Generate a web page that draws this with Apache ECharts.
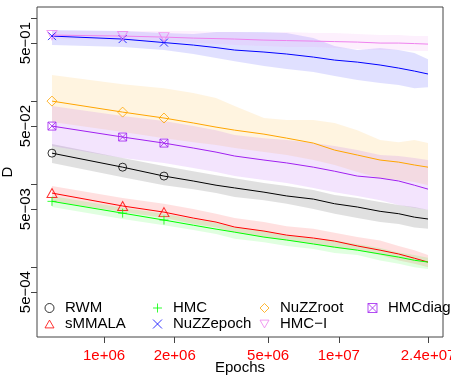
<!DOCTYPE html>
<html>
<head>
<meta charset="utf-8">
<script src="https://cdn.jsdelivr.net/npm/echarts@6/dist/echarts.min.js"></script>
<style>
  html, body { margin: 0; padding: 0; background: #fff; }
  #main { width: 451px; height: 375px; }
</style>
</head>
<body>
<div id="main"></div>
<script>
var epochs = [6e5, 1.2e6, 1.8e6, 2.4e6, 3e6, 3.6e6, 4.8e6, 6e6, 7.8e6, 9.6e6, 1.2e7, 1.5e7, 1.8e7, 2.1e7, 2.4e7];

// axis ticks and labels
var xTicks = [1e6, 2e6, 5e6, 1e7, 2.4e7];
var xTickLabels = ['1e+06', '2e+06', '5e+06', '1e+07', '2.4e+07'];
var yTicks = [1, 0.5, 0.1, 0.05, 0.01, 0.005, 0.001, 0.0005];
var yLabelVals = [0.5, 0.05, 0.005, 0.0005];
var yLabels = ['5e\u221201', '5e\u221202', '5e\u221203', '5e\u221204'];

// D per method: mean line, lower and upper band
var rwmMean = [0.0236, 0.0160, 0.0125, 0.0109, 0.0097, 0.0090, 0.0080, 0.0072, 0.0066, 0.0058, 0.0053, 0.0047, 0.0044, 0.0040, 0.0038];
var rwmLo   = [0.0180, 0.0121, 0.0097, 0.0087, 0.0078, 0.0070, 0.0064, 0.0058, 0.0050, 0.0044, 0.0039, 0.0035, 0.0033, 0.0030, 0.0029];
var rwmHi   = [0.0304, 0.0206, 0.0165, 0.0143, 0.0128, 0.0118, 0.0103, 0.0095, 0.0085, 0.0074, 0.0068, 0.0061, 0.0056, 0.0053, 0.0049];

var smmalaMean = [0.0078, 0.00545, 0.0046, 0.0039, 0.00349, 0.00304, 0.00272, 0.00243, 0.00224, 0.00206, 0.00180, 0.00160, 0.00144, 0.00128, 0.00115];
var smmalaLo   = [0.0062, 0.0046, 0.0039, 0.0033, 0.0030, 0.0026, 0.0023, 0.0021, 0.0019, 0.0017, 0.0016, 0.0014, 0.0012, 0.0011, 0.0010];
var smmalaHi   = [0.0095, 0.0068, 0.0058, 0.0050, 0.0044, 0.0039, 0.0035, 0.0031, 0.0029, 0.0026, 0.0023, 0.0021, 0.0018, 0.0016, 0.0014];

var hmcMean = [0.0062, 0.00447, 0.00369, 0.00320, 0.00287, 0.00264, 0.00230, 0.00212, 0.00190, 0.00174, 0.00160, 0.00144, 0.00132, 0.00121, 0.00115];
var hmcLo   = [0.0053, 0.0038, 0.0032, 0.0028, 0.0025, 0.0022, 0.0020, 0.0018, 0.00165, 0.00148, 0.0014, 0.0012, 0.0011, 0.0010, 0.00095];
var hmcHi   = [0.0072, 0.0052, 0.0044, 0.0038, 0.0034, 0.0030, 0.0027, 0.0024, 0.0022, 0.0021, 0.0019, 0.0017, 0.0015, 0.0014, 0.0013];

var epochMean = [0.607, 0.559, 0.507, 0.473, 0.441, 0.412, 0.390, 0.369, 0.339, 0.312, 0.295, 0.272, 0.250, 0.230, 0.212];
var epochLo   = [0.473, 0.447, 0.412, 0.369, 0.330, 0.303, 0.264, 0.243, 0.224, 0.200, 0.179, 0.165, 0.156, 0.143, 0.147];
var epochHi   = [0.717, 0.697, 0.660, 0.642, 0.678, 0.678, 0.678, 0.660, 0.574, 0.460, 0.412, 0.435, 0.412, 0.379, 0.320];

var rootMean = [0.100, 0.0737, 0.0625, 0.0545, 0.0486, 0.0447, 0.0400, 0.0358, 0.0312, 0.0257, 0.0224, 0.0195, 0.0184, 0.0170, 0.0160];
var rootLo   = [0.0559, 0.0424, 0.0358, 0.0320, 0.0295, 0.0272, 0.0243, 0.0224, 0.0195, 0.0170, 0.0140, 0.0118, 0.0112, 0.0106, 0.0097];
var rootHi   = [0.206, 0.160, 0.143, 0.125, 0.109, 0.087, 0.0625, 0.059, 0.059, 0.0545, 0.0447, 0.0339, 0.0320, 0.0339, 0.0312];

var hmciMean = [0.624, 0.607, 0.590, 0.574, 0.566, 0.559, 0.543, 0.536, 0.528, 0.521, 0.514, 0.500, 0.500, 0.493, 0.486];
var hmciLo   = [0.559, 0.543, 0.528, 0.500, 0.486, 0.473, 0.460, 0.447, 0.447, 0.435, 0.424, 0.412, 0.412, 0.400, 0.400];
var hmciHi   = [0.697, 0.697, 0.697, 0.697, 0.678, 0.678, 0.660, 0.678, 0.660, 0.660, 0.642, 0.624, 0.624, 0.607, 0.607];

var diagMean = [0.050, 0.0369, 0.0312, 0.0272, 0.0243, 0.0218, 0.0195, 0.0180, 0.0160, 0.0143, 0.0125, 0.0118, 0.0109, 0.0097, 0.0087];
var diagLo   = [0.0287, 0.0206, 0.0180, 0.0156, 0.0140, 0.0125, 0.0112, 0.0103, 0.0090, 0.0080, 0.0072, 0.0064, 0.0056, 0.0052, 0.0049];
var diagHi   = [0.087, 0.066, 0.0575, 0.050, 0.0447, 0.0390, 0.0358, 0.0339, 0.0312, 0.0287, 0.0257, 0.0224, 0.0218, 0.0206, 0.0195];

var methods = [
  { name: 'RWM', color: '#000000', band: 'rgba(0,0,0,0.12)', mean: rwmMean, lo: rwmLo, hi: rwmHi,
    symbol: 'circle', size: 8 },
  { name: 'sMMALA', color: '#FF0000', band: 'rgba(255,0,0,0.12)', mean: smmalaMean, lo: smmalaLo, hi: smmalaHi,
    symbol: 'path://M5,0L10,8.66L0,8.66Z', size: [10, 9] },
  { name: 'HMC', color: '#00FF00', band: 'rgba(0,255,0,0.12)', mean: hmcMean, lo: hmcLo, hi: hmcHi,
    symbol: 'path://M5,0L5,10M0,5L10,5', size: 9 },
  { name: 'NuZZepoch', color: '#0000FF', band: 'rgba(0,0,255,0.12)', mean: epochMean, lo: epochLo, hi: epochHi,
    symbol: 'path://M0,0L10,10M10,0L0,10', size: 8 },
  { name: 'NuZZroot', color: '#FFA500', band: 'rgba(255,165,0,0.12)', mean: rootMean, lo: rootLo, hi: rootHi,
    symbol: 'diamond', size: 10 },
  { name: 'HMC\u2212I', color: '#EE82EE', band: 'rgba(238,130,238,0.12)', mean: hmciMean, lo: hmciLo, hi: hmciHi,
    symbol: 'path://M0,0L10,0L5,8.66Z', size: [10, 9] },
  { name: 'HMCdiag', color: '#A020F0', band: 'rgba(160,32,240,0.12)', mean: diagMean, lo: diagLo, hi: diagHi,
    symbol: 'path://M0,0L10,0L10,10L0,10ZM0,0L10,10M10,0L0,10', size: 8 }
];

// legend laid out in columns like the R legend
var legendCols = [['RWM', 'sMMALA'], ['HMC', 'NuZZepoch'], ['NuZZroot', 'HMC\u2212I'], ['HMCdiag']];
var legendX = [44.5, 152.5, 259.5, 367.5];

var lg = Math.log10;
var font = 'Liberation Sans, Arial, Helvetica, sans-serif';

function labelFor(v, vals, labels) {
  for (var i = 0; i < vals.length; i++) {
    if (Math.abs(lg(vals[i]) - v) < 1e-6) return labels[i];
  }
  return '';
}

// shaded band between lo and hi, drawn as one polygon
function bandSeries(m) {
  return {
    type: 'custom',
    silent: true,
    z: 1,
    data: epochs.map(function (x, i) { return [lg(x), lg(m.lo[i]), lg(m.hi[i])]; }),
    encode: { x: 0, y: [1, 2] },
    renderItem: function (params, api) {
      if (params.dataIndex !== 0) return null;
      var top = [], bot = [];
      for (var i = 0; i < epochs.length; i++) {
        top.push(api.coord([lg(epochs[i]), lg(m.hi[i])]));
        bot.unshift(api.coord([lg(epochs[i]), lg(m.lo[i])]));
      }
      return { type: 'polygon', shape: { points: top.concat(bot) }, style: { fill: m.band } };
    }
  };
}

var series = [];
methods.forEach(function (m) { series.push(bandSeries(m)); });
methods.forEach(function (m) {
  series.push({
    name: m.name + ' line',
    type: 'line',
    z: 2,
    silent: true,
    symbol: 'none',
    lineStyle: { color: m.color, width: 1 },
    data: epochs.map(function (x, i) { return [lg(x), lg(m.mean[i])]; })
  });
});
// markers only on the first three points
methods.forEach(function (m) {
  series.push({
    name: m.name,
    type: 'scatter',
    z: 3,
    silent: true,
    symbol: m.symbol,
    symbolSize: m.size,
    itemStyle: { color: 'rgba(0,0,0,0)', borderColor: m.color, borderWidth: 1 },
    data: epochs.slice(0, 3).map(function (x, i) { return [lg(x), lg(m.mean[i])]; })
  });
});

var methodOf = {};
methods.forEach(function (m) { methodOf[m.name] = m; });

var chart = echarts.init(document.getElementById('main'));
chart.setOption({
  animation: false,
  textStyle: { fontFamily: font },
  grid: { left: 37, right: 8, top: 7, bottom: 38, show: true, borderColor: '#444', borderWidth: 1,
          backgroundColor: 'rgba(0,0,0,0)', containLabel: false, outerBoundsMode: 'none' },
  legend: legendCols.map(function (names, c) {
    return {
      orient: 'vertical',
      left: legendX[c],
      top: 300,
      padding: 0,
      itemGap: 0,
      itemWidth: 9,
      itemHeight: 9,
      selectedMode: false,
      textStyle: { fontFamily: font, fontSize: 15, color: '#000', lineHeight: 16, padding: [0, 0, 0, 6] },
      data: names.map(function (n) {
        var m = methodOf[n];
        return { name: n, icon: m.symbol,
                 itemStyle: { color: 'rgba(0,0,0,0)', borderColor: m.color, borderWidth: 1 } };
      })
    };
  }),
  xAxis: {
    type: 'value',
    min: lg(5.18e5),
    max: lg(2.78e7),
    name: 'Epochs',
    nameLocation: 'middle',
    nameGap: 23,
    nameMoveOverlap: false,
    nameTextStyle: { fontFamily: font, fontSize: 15, color: '#000' },
    axisLine: { show: false, onZero: false },
    splitLine: { show: false },
    axisTick: { show: true, length: 6, lineStyle: { color: '#444' }, customValues: xTicks.map(lg) },
    axisLabel: {
      customValues: xTicks.map(lg),
      margin: 11,
      fontFamily: font,
      fontSize: 15,
      color: '#FF0000',
      formatter: function (v) { return labelFor(v, xTicks, xTickLabels); }
    }
  },
  yAxis: {
    type: 'value',
    min: lg(1.44e-4),
    max: lg(1.36),
    name: 'D',
    nameLocation: 'middle',
    nameGap: 22,
    nameMoveOverlap: false,
    nameTextStyle: { fontFamily: font, fontSize: 15, color: '#000' },
    axisLine: { show: false, onZero: false },
    splitLine: { show: false },
    axisTick: { show: true, length: 6, lineStyle: { color: '#444' }, customValues: yTicks.map(lg) },
    axisLabel: {
      customValues: yLabelVals.map(lg),
      rotate: 90,
      margin: 4,
      fontFamily: font,
      fontSize: 15,
      color: '#000',
      formatter: function (v) { return labelFor(v, yLabelVals, yLabels); }
    }
  },
  series: series
});
</script>
</body>
</html>
